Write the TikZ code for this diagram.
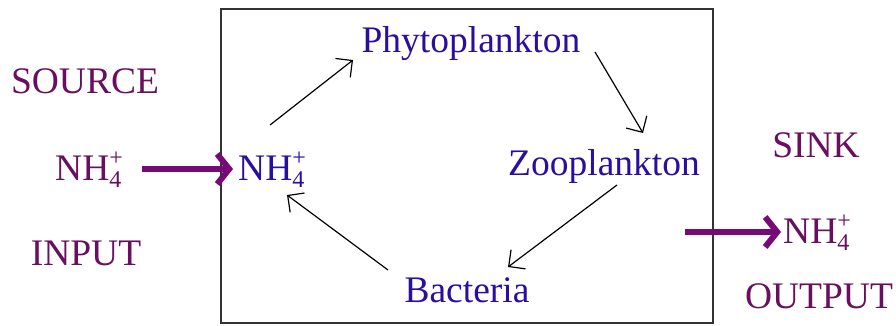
\documentclass[tikz,border=0pt]{standalone}
\usepackage{fontspec}
\setmainfont{Liberation Serif}
\usetikzlibrary{arrows.meta}
\definecolor{purp}{RGB}{105,15,95}
\definecolor{arrpurp}{RGB}{118,10,118}
\definecolor{bluetx}{RGB}{40,15,160}
\newcommand{\nhfour}{NH\makebox[0pt][l]{\raisebox{0.38em}{\fontsize{24}{24}\selectfont +}}\raisebox{-0.2em}{\fontsize{24}{24}\selectfont 4}}
\begin{document}
\begin{tikzpicture}[x=1pt,y=-1pt,
  lbl/.style={inner sep=0pt,anchor=base,font=\fontsize{37.5}{40}\selectfont},
  outer/.style={lbl,text=purp},
  inner/.style={lbl,text=bluetx},
  thin/.style={draw=black,line width=1.2pt,-{Straight Barb[length=12pt,width=24pt]}},
  thick/.style={draw=arrpurp,line width=6pt,-{Straight Barb[length=12pt,width=30pt]}}]
\useasboundingbox (0,0) rectangle (896,325);
\node (box) [draw=black!80,line width=2pt,minimum width=492pt,minimum height=314pt,inner sep=0pt] at (467,166) {};
\node (src) [outer] at (85,93) {SOURCE};
\node (inp) [outer] at (86,265) {INPUT};
\node (sink) [outer] at (816,157) {SINK};
\node (out) [outer] at (819,308) {OUTPUT};
\node (nhL) [outer,anchor=base west] at (55,180) {\nhfour};
\node (nhR) [outer,anchor=base west] at (783,243) {\nhfour};
\node (nhI) [inner,anchor=base west] at (238,180) {\nhfour};
\node (phyto) [inner] at (471,52) {Phytoplankton};
\node (zoo) [inner] at (604,175) {Zooplankton};
\node (bact) [inner] at (467,302) {Bacteria};
\draw[thick] ([shift={(20,-11)}]nhL.base east) -- ([shift={(-5,-11)}]nhI.base west);
\draw[thick] ([shift={(-98,-11)}]nhR.base west) -- ([shift={(-2,-11)}]nhR.base west);
\draw[thin] ([shift={(32,-55)}]nhI.base west) -- ([shift={(-118,8)}]phyto.base);
\draw[thin] ([shift={(124,0)}]phyto.base) -- ([shift={(39,-42)}]zoo.base);
\draw[thin] ([shift={(13,10)}]zoo.base) -- ([shift={(41,-35)}]bact.base);
\draw[thin] ([shift={(-79,-32)}]bact.base) -- ([shift={(49,15)}]nhI.base west);
\end{tikzpicture}
\end{document}
